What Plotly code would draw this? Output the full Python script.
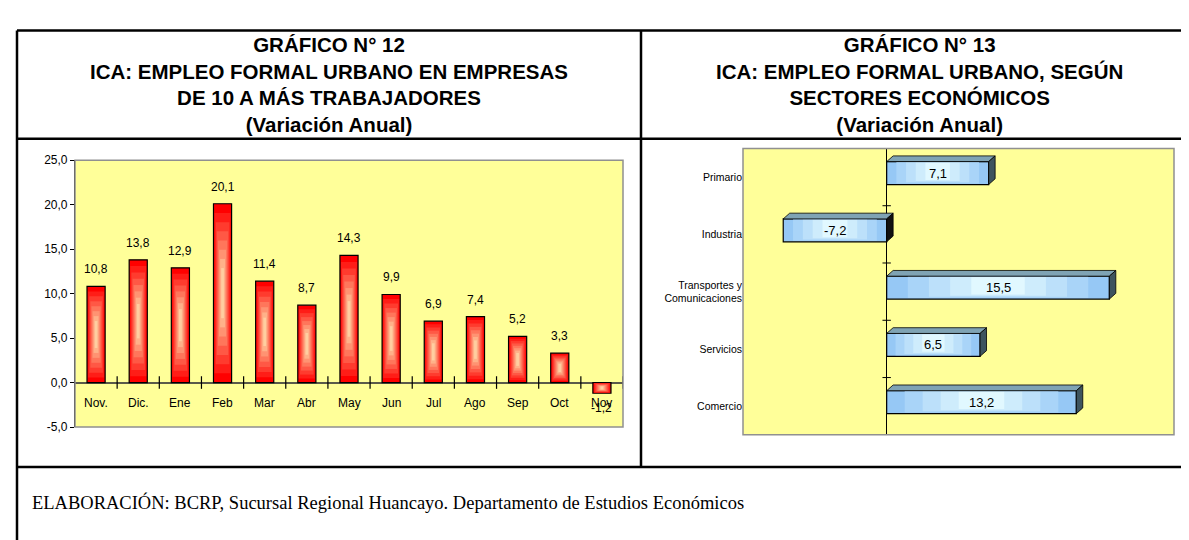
import plotly.graph_objects as go

# ---------------- data ----------------
months = ["Nov.", "Dic.", "Ene", "Feb", "Mar", "Abr", "May", "Jun", "Jul", "Ago", "Sep", "Oct", "Nov"]
empleo = [10.8, 13.8, 12.9, 20.1, 11.4, 8.7, 14.3, 9.9, 6.9, 7.4, 5.2, 3.3, -1.2]
y_ticks = [-5, 0, 5, 10, 15, 20, 25]

sectores = ["Primario", "Industria", "Transportes y<br>Comunicaciones", "Servicios", "Comercio"]
sector_var = [7.1, -7.2, 15.5, 6.5, 13.2]

title_left = "GRÁFICO N° 12<br>ICA: EMPLEO FORMAL URBANO EN EMPRESAS<br>DE 10 A MÁS TRABAJADORES<br>(Variación Anual)"
title_right = "GRÁFICO N° 13<br>ICA: EMPLEO FORMAL URBANO, SEGÚN<br>SECTORES ECONÓMICOS<br>(Variación Anual)"
footer = "ELABORACIÓN: BCRP, Sucursal Regional Huancayo. Departamento de Estudios Económicos"

# ---------------- layout helpers ----------------
W, H = 1189, 540
def px(x):
    return x / W
def py(y):
    return 1 - y / H

SANS = "Liberation Sans, Arial, sans-serif"
SERIF = "Liberation Serif, Times New Roman, serif"

def mix(c1, c2, t):
    return "rgb(%d,%d,%d)" % tuple(round(a + (b - a) * t) for a, b in zip(c1, c2))

def fmt(v):
    return ("%.1f" % v).replace(".", ",")

fig = go.Figure()

# ---------------- left chart: vertical bars with gradient ----------------
xi = list(range(len(months)))
BW = 0.43
RED, PEACH = (255, 0, 0), (255, 206, 160)
NL = 7
for k in range(NL + 1):
    t = k / NL
    hf = 1 - 0.85 * t
    vt = 0.36 * t
    fig.add_trace(go.Bar(
        x=xi, y=[v * (1 - 2 * vt) for v in empleo], base=[v * vt for v in empleo],
        width=BW * hf, xaxis="x", yaxis="y",
        marker=dict(color=mix(RED, PEACH, t),
                    line=dict(color="black", width=1.2 if k == 0 else 0)),
        hoverinfo="skip", showlegend=False))

# crossing tick marks at category boundaries on the zero line
fig.add_trace(go.Scatter(
    x=[i + 0.5 for i in xi], y=[0] * len(xi), mode="markers", xaxis="x", yaxis="y",
    marker=dict(symbol="line-ns", size=9, line=dict(color="black", width=1.2)),
    hoverinfo="skip", showlegend=False))

annotations = []
for i, (m, v) in enumerate(zip(months, empleo)):
    annotations.append(dict(x=i, y=v, xref="x", yref="y", text=fmt(v), showarrow=False,
                            yshift=17 if v >= 0 else -15,
                            font=dict(family=SANS, size=12, color="black")))
    annotations.append(dict(x=i, y=0, xref="x", yref="y", text=m, showarrow=False,
                            yshift=-20, font=dict(family=SANS, size=12, color="black")))

# ---------------- right chart: horizontal 3D-like bars ----------------
yi = list(range(len(sectores)))
TOP_OFF, BOT_OFF = -0.27, 0.13      # front face relative to category centre
DX, DY = 0.45, 0.10                 # depth of the 3D effect
BLUE, LIGHT = (150, 200, 245), (225, 248, 255)
NB = 4
for k in range(NB + 1):
    t = k / NB
    lt = 0.38 * t
    shrink = 0.25 * t
    fig.add_trace(go.Bar(
        y=yi, x=[v * (1 - 2 * lt) for v in sector_var], base=[v * lt for v in sector_var],
        orientation="h", width=(BOT_OFF - TOP_OFF) * (1 - shrink),
        offset=TOP_OFF + (BOT_OFF - TOP_OFF) * shrink * 0.2,
        xaxis="x2", yaxis="y2",
        marker=dict(color=mix(BLUE, LIGHT, t),
                    line=dict(color="black", width=1.2 if k == 0 else 0)),
        hoverinfo="skip", showlegend=False))

for i, v in enumerate(sector_var):
    x0, x1 = min(0, v), max(0, v)
    yt, yb = i + TOP_OFF, i + BOT_OFF
    # top face
    fig.add_trace(go.Scatter(
        x=[x0, x1, x1 + DX, x0 + DX, x0], y=[yt, yt, yt - DY, yt - DY, yt],
        mode="lines", fill="toself", fillcolor="#7fa3b4",
        line=dict(color="black", width=0.8), xaxis="x2", yaxis="y2",
        hoverinfo="skip", showlegend=False))
    # side face
    fig.add_trace(go.Scatter(
        x=[x1, x1 + DX, x1 + DX, x1, x1], y=[yt, yt - DY, yb - DY, yb, yt],
        mode="lines", fill="toself", fillcolor="#3e545e" if v > 0 else "#111111",
        line=dict(color="black", width=0.8), xaxis="x2", yaxis="y2",
        hoverinfo="skip", showlegend=False))
    annotations.append(dict(x=v / 2, y=i + (TOP_OFF + BOT_OFF) / 2, xref="x2", yref="y2",
                            text=fmt(v), showarrow=False,
                            font=dict(family=SANS, size=13, color="black")))

# tick marks at category boundaries on the zero axis (right chart)
fig.add_trace(go.Scatter(
    x=[0] * (len(yi) - 1), y=[i + 0.5 for i in yi[:-1]], mode="markers",
    xaxis="x2", yaxis="y2",
    marker=dict(symbol="line-ew", size=6, line=dict(color="black", width=1)),
    hoverinfo="skip", showlegend=False))

# ---------------- titles and footer ----------------
annotations += [
    dict(x=px(321), y=py(71), xref="paper", yref="paper", text="<b>%s</b>" % title_left,
         showarrow=False, align="center", xanchor="center", yanchor="middle",
         font=dict(family=SANS, size=20.5, color="black")),
    dict(x=px(911), y=py(71), xref="paper", yref="paper", text="<b>%s</b>" % title_right,
         showarrow=False, align="center", xanchor="center", yanchor="middle",
         font=dict(family=SANS, size=20.5, color="black")),
    dict(x=px(22), y=py(500), xref="paper", yref="paper", text=footer,
         showarrow=False, xanchor="left", yanchor="middle",
         font=dict(family=SERIF, size=18.5, color="black")),
]

# table frame lines
LC = "black"
LW = 2.5
shapes = [
    dict(type="line", xref="paper", yref="paper", x0=px(9), x1=1, y0=py(16), y1=py(16), line=dict(color=LC, width=LW)),
    dict(type="line", xref="paper", yref="paper", x0=px(9), x1=px(9), y0=py(16), y1=0, line=dict(color=LC, width=LW)),
    dict(type="line", xref="paper", yref="paper", x0=px(633), x1=px(633), y0=py(16), y1=py(464), line=dict(color=LC, width=LW)),
    dict(type="line", xref="paper", yref="paper", x0=px(9), x1=1, y0=py(127), y1=py(127), line=dict(color=LC, width=LW)),
    dict(type="line", xref="paper", yref="paper", x0=px(9), x1=1, y0=py(464), y1=py(464), line=dict(color=LC, width=LW)),
    # plot area borders
    dict(type="rect", xref="x domain", yref="y domain", x0=0, x1=1, y0=0, y1=1,
         line=dict(color="#909090", width=1.5), layer="above"),
    dict(type="rect", xref="x2 domain", yref="y2 domain", x0=0, x1=1, y0=0, y1=1,
         line=dict(color="#909090", width=1.5), layer="above"),
]

fig.update_layout(
    width=W, height=H, margin=dict(l=0, r=0, t=0, b=0),
    paper_bgcolor="white", plot_bgcolor="#FFFF99",
    barmode="overlay", separators=",.", showlegend=False,
    annotations=annotations, shapes=shapes,
    xaxis=dict(domain=[px(67), px(615)], range=[-0.5, len(months) - 0.5],
               showticklabels=False, ticks="", showgrid=False, zeroline=False,
               showline=False, fixedrange=True),
    yaxis=dict(domain=[py(423), py(149)], range=[-5, 25], tickvals=y_ticks,
               ticktext=[fmt(v) for v in y_ticks],
               ticks="outside", ticklen=4, tickcolor="black",
               showline=True, linecolor="black", linewidth=1.2, showgrid=False,
               zeroline=True, zerolinecolor="#5a5a4a", zerolinewidth=2,
               tickfont=dict(family=SANS, size=12, color="black"), fixedrange=True),
    xaxis2=dict(domain=[px(735), px(1166)], range=[-10, 20], anchor="y2",
                showticklabels=False, ticks="", showgrid=False,
                zeroline=True, zerolinecolor="black", zerolinewidth=1.2,
                showline=False, fixedrange=True),
    yaxis2=dict(domain=[py(431), py(137)], anchor="x2", range=[4.5, -0.5],
                tickvals=yi, ticktext=sectores, ticks="", showgrid=False, zeroline=False,
                showline=False, tickfont=dict(family=SANS, size=10.5, color="black"),
                fixedrange=True),
)

fig.write_html("out.html")
